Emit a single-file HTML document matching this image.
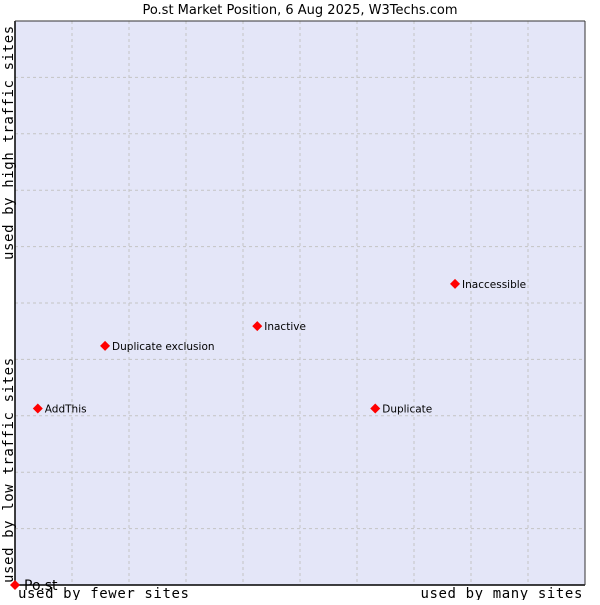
<!DOCTYPE html>
<html><head><meta charset="utf-8"><style>
body{margin:0;background:#fff;}
svg text{font-family:"DejaVu Sans","Liberation Sans",sans-serif;}
.mono{font-family:"DejaVu Sans Mono","Liberation Mono",monospace;letter-spacing:0.6px;}
</style></head><body>
<svg id="chart" width="600" height="600" viewBox="0 0 600 600">
<text x="300" y="14" text-anchor="middle" font-size="13" fill="#000">Po.st Market Position, 6 Aug 2025, W3Techs.com</text>
<rect x="15" y="21" width="570" height="564" fill="#e4e6f8"/>
<g id="grid"></g>
<line x1="15" y1="21" x2="15" y2="585" stroke="#000" stroke-width="1.5"/>
<line x1="15" y1="585" x2="585" y2="585" stroke="#000" stroke-width="1.5"/>
<line x1="15" y1="21" x2="585" y2="21" stroke="#333" stroke-width="1"/>
<line x1="585" y1="21" x2="585" y2="585" stroke="#333" stroke-width="1"/>
<g id="points"></g>
<text class="mono" x="18" y="598" font-size="14">used by fewer sites</text>
<text class="mono" x="583" y="598" font-size="14" text-anchor="end">used by many sites</text>
<text class="mono" transform="translate(13,583) rotate(-90)" font-size="14">used by low traffic sites</text>
<text class="mono" transform="translate(13,260) rotate(-90)" font-size="14">used by high traffic sites</text>
</svg>
<script>
const names = ["Po.st","AddThis","Duplicate exclusion","Inactive","Inaccessible","Duplicate"];
const xs = [0,4,15.8,42.5,77.2,63.2];
const ys = [0,31.3,42.4,45.9,53.4,31.3];
const ticks = [10,20,30,40,50,60,70,80,90];
const NS="http://www.w3.org/2000/svg";
const X=v=>15+v*5.7, Y=v=>585-v*5.64;
const grid=document.getElementById('grid'), pts=document.getElementById('points');
ticks.forEach(t=>{
  let l=document.createElementNS(NS,'line');
  
  
  l.setAttribute('x1',X(t));l.setAttribute('x2',X(t));l.setAttribute('y1',21);l.setAttribute('y2',585);
  l.setAttribute('stroke','#c4c4c4');l.setAttribute('stroke-dasharray','3,3');grid.appendChild(l);
  let h=document.createElementNS(NS,'line');
  
  
  h.setAttribute('x1',15);h.setAttribute('x2',585);h.setAttribute('y1',Y(t));h.setAttribute('y2',Y(t));
  h.setAttribute('stroke','#c4c4c4');h.setAttribute('stroke-dasharray','3,3');grid.appendChild(h);
});
names.forEach((n,i)=>{
  const cx=X(xs[i]), cy=Y(ys[i]);
  let d=document.createElementNS(NS,'polygon');
  
  
  d.setAttribute('points',`${cx},${cy-5} ${cx+5},${cy} ${cx},${cy+5} ${cx-5},${cy}`);
  d.setAttribute('fill','#f00');pts.appendChild(d);
  let t=document.createElementNS(NS,'text');
  
  
  const big=i===0;
  t.setAttribute('x',cx+(big?9:7));t.setAttribute('y',cy+(big?5:4));
  t.setAttribute('font-size',big?'14':'10.5');
  t.textContent=n;pts.appendChild(t);
});
</script>
</body></html>
